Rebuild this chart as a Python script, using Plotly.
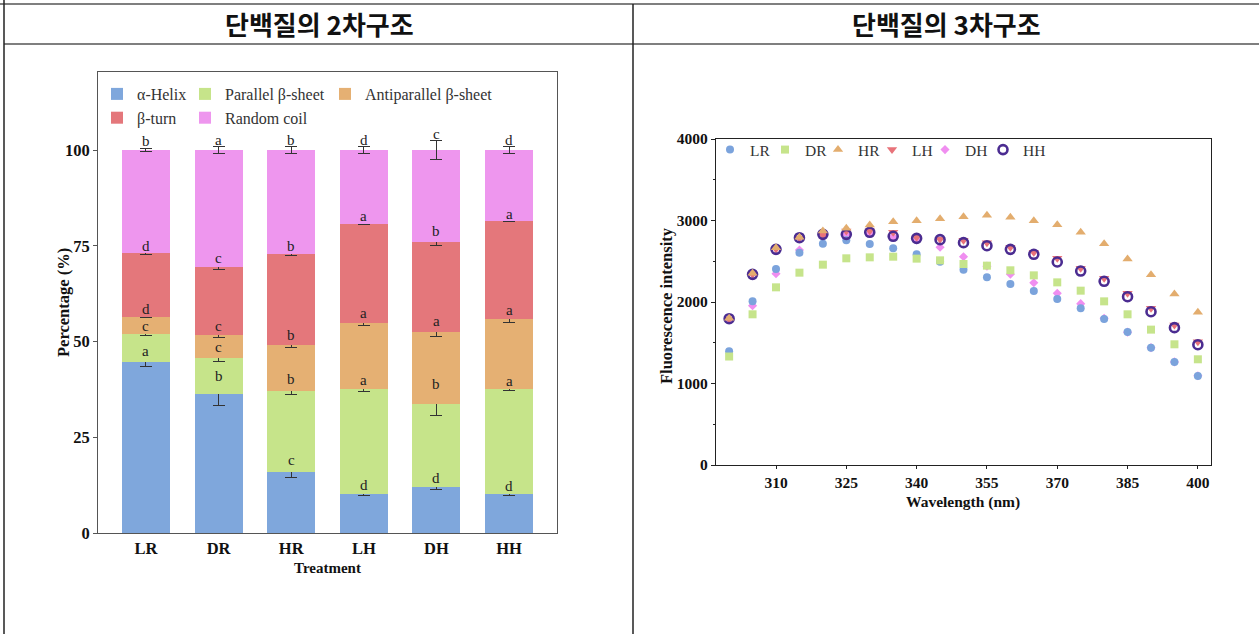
import plotly.graph_objects as go

W, H = 1259, 634

# ---- secondary structure composition (%) ----
treatments = ["LR", "DR", "HR", "LH", "DH", "HH"]
helix = [44.7, 36.3, 15.9, 10.3, 11.9, 10.1]
parallel = [7.2, 9.4, 21.3, 27.3, 21.9, 27.5]
antiparallel = [4.6, 6.0, 11.9, 17.3, 18.6, 18.2]
turn = [16.5, 17.8, 23.7, 25.9, 23.6, 25.7]
coil = [27.0, 30.5, 27.2, 19.2, 24.0, 18.5]

helix_sd = [1.1, 3.0, 1.3, 0.5, 0.6, 0.4]
parallel_sd = [0.3, 1.0, 1.1, 0.6, 3.2, 0.35]
antiparallel_sd = [0.3, 0.6, 0.7, 0.65, 1.1, 0.7]
turn_sd = [0.2, 0.6, 0.4, 0.15, 1.0, 0.1]
coil_sd = [0.45, 0.9, 0.9, 0.9, 2.4, 0.9]

helix_sig = ["a", "b", "c", "d", "d", "d"]
parallel_sig = ["c", "c", "b", "a", "b", "a"]
antiparallel_sig = ["d", "c", "b", "a", "a", "a"]
turn_sig = ["d", "c", "b", "a", "b", "a"]
coil_sig = ["b", "a", "b", "d", "c", "d"]

# ---- intrinsic fluorescence spectra ----
wavelength = [300, 305, 310, 315, 320, 325, 330, 335, 340, 345, 350,
              355, 360, 365, 370, 375, 380, 385, 390, 395, 400]
LR = [1396, 2008, 2405, 2605, 2716, 2757, 2712, 2659, 2585, 2495, 2397,
      2303, 2221, 2135, 2037, 1922, 1791, 1632, 1440, 1264, 1092]
DR = [1331, 1849, 2180, 2360, 2458, 2536, 2548, 2556, 2532, 2511, 2466,
      2446, 2389, 2327, 2241, 2139, 2008, 1849, 1661, 1481, 1297]
HR = [1800, 2352, 2667, 2793, 2871, 2904, 2945, 2986, 2998, 3022, 3047,
      3063, 3039, 2998, 2949, 2855, 2716, 2528, 2335, 2098, 1873]
LH = [1790, 2340, 2650, 2785, 2820, 2871, 2875, 2855, 2793, 2769, 2757,
      2728, 2671, 2609, 2536, 2413, 2290, 2106, 1922, 1718, 1513]
DH = [1790, 1955, 2348, 2638, 2802, 2830, 2840, 2800, 2760, 2671, 2556,
      2440, 2340, 2237, 2106, 1980, 1800, 1630, 1440, 1265, 1095]
HH = [1795, 2339, 2646, 2789, 2830, 2830, 2855, 2806, 2781, 2765, 2728,
      2691, 2646, 2585, 2491, 2380, 2254, 2065, 1881, 1685, 1476]

SERIF = "Liberation Serif, Times New Roman, serif"
KR = "Noto Sans CJK KR, sans-serif"


def px_x(v):
    return v / W


def px_y(v):
    return 1 - v / H


fig = go.Figure()

# stacked bars; legends laid out as three columns
bar_series = [
    ("α-Helix", helix, helix_sd, helix_sig, "#7fa7dc", "legend"),
    ("Parallel β-sheet", parallel, parallel_sd, parallel_sig, "#c6e48a", "legend2"),
    ("Antiparallel β-sheet", antiparallel, antiparallel_sd, antiparallel_sig, "#e5b073", "legend3"),
    ("β-turn", turn, turn_sd, turn_sig, "#e4777b", "legend"),
    ("Random coil", coil, coil_sd, coil_sig, "#ee96ee", "legend2"),
]
cum = [0.0] * len(treatments)
annotations = []
for name, vals, sd, sig, color, lg in bar_series:
    fig.add_trace(go.Bar(
        x=treatments, y=vals, name=name, legend=lg, legendgroup=name,
        marker=dict(color=color, line=dict(width=0)),
        error_y=dict(type="data", array=sd, visible=True, color="#333333",
                     thickness=1, width=6),
        xaxis="x", yaxis="y",
    ))
    cum = [c + v for c, v in zip(cum, vals)]
    for t, top, e, s in zip(treatments, cum, sd, sig):
        annotations.append(dict(
            x=t, y=top + e, xref="x", yref="y", text=s, showarrow=False,
            yanchor="bottom", yshift=-3,
            font=dict(family=SERIF, size=15, color="#222222"),
        ))

# fluorescence scatter (drawn bottom to top); one legend per entry
scatter_series = [
    ("DH", DH, dict(symbol="diamond", size=7, color="#f08ef0"), "legend8"),
    ("LR", LR, dict(symbol="circle", size=8, color="#7ba3dc"), "legend4"),
    ("DR", DR, dict(symbol="square", size=8, color="#c6e48b"), "legend5"),
    ("LH", LH, dict(symbol="triangle-down", size=9, color="#e8737a"), "legend7"),
    ("HH", HH, dict(symbol="circle-open", size=9, color="#4b2c91",
                    line=dict(width=2.6, color="#4b2c91")), "legend9"),
    ("HR", HR, dict(symbol="triangle-up", size=9, color="#e3ad6e"), "legend6"),
]
for name, vals, mk, lg in scatter_series:
    fig.add_trace(go.Scatter(
        x=wavelength, y=vals, mode="markers", name=name, marker=mk,
        legend=lg, xaxis="x2", yaxis="y2",
    ))

# panel headers
header_font = dict(family=KR, size=26, color="#111111")
annotations += [
    dict(x=px_x(319), y=px_y(24), xref="paper", yref="paper", text="<b>단백질의 2차구조</b>",
         showarrow=False, xanchor="center", yanchor="middle", font=header_font),
    dict(x=px_x(946), y=px_y(24), xref="paper", yref="paper", text="<b>단백질의 3차구조</b>",
         showarrow=False, xanchor="center", yanchor="middle", font=header_font),
]

# axis titles
title_font = dict(family=SERIF, size=15, color="#111111", weight="bold")
vtitle_font = dict(family=SERIF, size=16.5, color="#111111", weight="bold")
annotations += [
    dict(x=px_x(327.5), y=px_y(568), xref="paper", yref="paper", text="Treatment",
         showarrow=False, xanchor="center", yanchor="middle", font=title_font),
    dict(x=px_x(64), y=px_y(302), xref="paper", yref="paper", text="Percentage (%)",
         showarrow=False, xanchor="center", yanchor="middle", textangle=-90, font=vtitle_font),
    dict(x=px_x(963.5), y=px_y(502), xref="paper", yref="paper", text="Wavelength (nm)",
         showarrow=False, xanchor="center", yanchor="middle",
         font=dict(family=SERIF, size=15.5, color="#111111", weight="bold")),
    dict(x=px_x(666), y=px_y(306), xref="paper", yref="paper", text="Fluorescence intensity",
         showarrow=False, xanchor="center", yanchor="middle", textangle=-90, font=vtitle_font),
]

# table frame lines
line_style = dict(color="#555555", width=1.5)
shapes = [
    dict(type="line", xref="paper", yref="paper", x0=0, x1=1, y0=px_y(4), y1=px_y(4), line=line_style),
    dict(type="line", xref="paper", yref="paper", x0=px_x(4), x1=1, y0=px_y(44), y1=px_y(44), line=line_style),
    dict(type="line", xref="paper", yref="paper", x0=px_x(4), x1=px_x(4), y0=0, y1=1,
         line=dict(color="#222222", width=1.5)),
    dict(type="line", xref="paper", yref="paper", x0=px_x(633), x1=px_x(633), y0=0, y1=px_y(4),
         line=dict(color="#222222", width=1.5)),
]

left_tick_font = dict(family=SERIF, size=16.5, color="#111111", weight="bold")
right_tick_font = dict(family=SERIF, size=15.5, color="#111111", weight="bold")
bar_leg_font = dict(family=SERIF, size=16, color="#333333")
pt_leg_font = dict(family=SERIF, size=15.5, color="#333333")


def bar_legend(x):
    return dict(x=px_x(x), y=px_y(77), xanchor="left", yanchor="top",
                orientation="v", traceorder="grouped", tracegroupgap=0,
                bgcolor="rgba(0,0,0,0)", font=bar_leg_font)


def pt_legend(x):
    return dict(x=px_x(x), y=px_y(133), xanchor="left", yanchor="top",
                orientation="h", bgcolor="rgba(0,0,0,0)", font=pt_leg_font)


fig.update_layout(
    width=W, height=H, autosize=False,
    margin=dict(l=0, r=0, t=0, b=0, pad=0, autoexpand=False),
    paper_bgcolor="white", plot_bgcolor="white",
    barmode="stack", bargap=0.34,
    showlegend=True,
    annotations=annotations, shapes=shapes,
    xaxis=dict(domain=[px_x(98), px_x(557)], range=[-0.66, 5.66], anchor="y",
               showline=True, mirror=True, linecolor="#555555", linewidth=1,
               ticks="", tickfont=left_tick_font, automargin=False),
    yaxis=dict(domain=[px_y(533), px_y(72)], range=[0, 120.4], anchor="x",
               tickvals=[0, 25, 50, 75, 100], showgrid=False, zeroline=False,
               showline=True, mirror=True, linecolor="#555555", linewidth=1,
               ticks="outside", ticklen=4, tickcolor="#555555", tickfont=left_tick_font,
               automargin=False),
    xaxis2=dict(domain=[px_x(716), px_x(1211)], range=[297.2, 402.8], anchor="y2",
                tickvals=[310, 325, 340, 355, 370, 385, 400], showgrid=False, zeroline=False,
                showline=True, mirror=True, linecolor="#222222", linewidth=1.2,
                ticks="outside", ticklen=3, tickcolor="#222222", tickfont=right_tick_font,
                automargin=False),
    yaxis2=dict(domain=[px_y(465), px_y(139)], range=[0, 4000], anchor="x2",
                tickvals=[0, 1000, 2000, 3000, 4000], showgrid=False, zeroline=False,
                showline=True, mirror=True, linecolor="#222222", linewidth=1.2,
                ticks="outside", ticklen=4, tickcolor="#222222", tickfont=right_tick_font,
                automargin=False,
                minor=dict(tickvals=[500, 1500, 2500, 3500], ticks="outside", ticklen=2,
                           tickcolor="#222222")),
    legend=bar_legend(97),
    legend2=bar_legend(185),
    legend3=bar_legend(325),
    legend4=pt_legend(710),
    legend5=pt_legend(765),
    legend6=pt_legend(818),
    legend7=pt_legend(872),
    legend8=pt_legend(925),
    legend9=pt_legend(983),
)

fig.write_html("out.html", config={"displayModeBar": False})
